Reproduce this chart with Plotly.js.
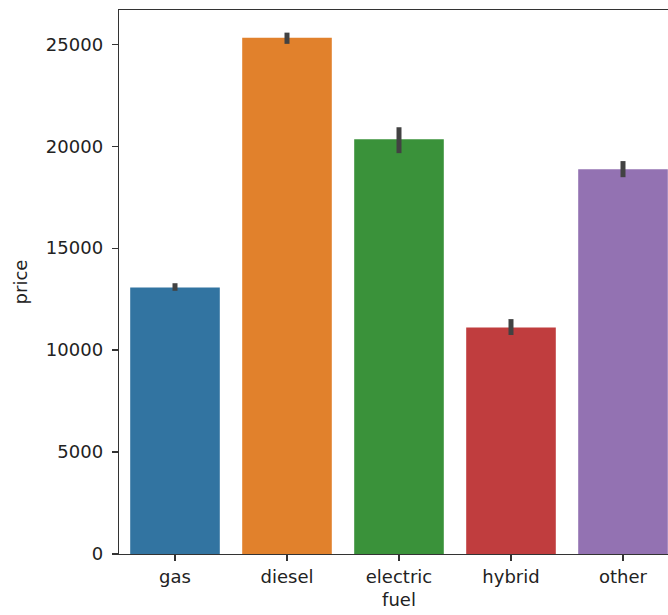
<!DOCTYPE html>
<html>
<head>
<meta charset="utf-8">
<script src="https://cdn.plot.ly/plotly-3.0.1.min.js"></script>
<style>
html, body { margin: 0; padding: 0; overflow: hidden; background: #fff; }
#chart { width: 679px; height: 615px; }
</style>
</head>
<body>
<div id="chart"></div>
<script>
const categories = ["gas", "diesel", "electric", "hybrid", "other"];
const priceMean = [13070, 25320, 20340, 11110, 18870];
const ciLow = [12910, 25020, 19660, 10740, 18480];
const ciHigh = [13280, 25570, 20930, 11520, 19270];
const barColors = ["#3274a1", "#e1812c", "#3a923a", "#c03d3e", "#9372b2"];
const yTicks = [0, 5000, 10000, 15000, 20000, 25000];

const errPlus = ciHigh.map((h, i) => h - priceMean[i]);
const errMinus = priceMean.map((m, i) => m - ciLow[i]);

const font = { family: "DejaVu Sans", size: 18, color: "#222" };

const trace = {
  type: "bar",
  x: categories,
  y: priceMean,
  width: 0.8,
  marker: { color: barColors, line: { width: 0 } },
  error_y: {
    type: "data",
    symmetric: false,
    array: errPlus,
    arrayminus: errMinus,
    color: "#424242",
    thickness: 5,
    width: 0
  },
  hoverinfo: "x+y"
};

const layout = {
  width: 679,
  height: 615,
  margin: { l: 119, r: 0, t: 10, b: 61 },
  paper_bgcolor: "#fff",
  plot_bgcolor: "#fff",
  font: font,
  showlegend: false,
  xaxis: {
    type: "category",
    range: [-0.5, 4.5],
    showline: true, mirror: true, linecolor: "#333", linewidth: 1.3,
    showgrid: false, zeroline: false,
    ticks: "outside", ticklen: 6, tickwidth: 1.3, tickcolor: "#333",
    tickfont: font,
    title: { text: "fuel", font: font, standoff: 7 }
  },
  yaxis: {
    range: [0, 26680],
    tickvals: yTicks,
    ticktext: yTicks.map(String),
    showline: true, mirror: true, linecolor: "#333", linewidth: 1.3,
    showgrid: false, zeroline: false,
    ticks: "outside", ticklen: 6, tickwidth: 1.3, tickcolor: "#333",
    ticklabelstandoff: 5,
    tickfont: font,
    title: { text: "price", font: font, standoff: 13 }
  }
};

Plotly.newPlot("chart", [trace], layout, { displayModeBar: false, staticPlot: true });
</script>
</body>
</html>
